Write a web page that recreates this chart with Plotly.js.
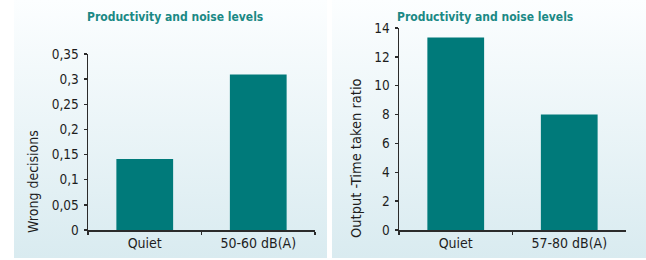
<!DOCTYPE html>
<html>
<head>
<meta charset="utf-8">
<script src="https://cdn.plot.ly/plotly-3.0.1.min.js"></script>
<style>html,body{margin:0;padding:0;background:#fff;}#chart{width:646px;height:260px;}</style>
</head>
<body>
<div id="chart"></div>
<script>
// ---- data ----
const chartTitle = "Productivity and noise levels";
const leftCategories = ["Quiet", "50-60 dB(A)"];
const leftValues = [0.141, 0.309];
const leftYTitle = "Wrong decisions";
const leftTickVals = [0, 0.05, 0.1, 0.15, 0.2, 0.25, 0.3, 0.35];
const leftTickText = ["0", "0,05", "0,1", "0,15", "0,2", "0,25", "0,3", "0,35"];

const rightCategories = ["Quiet", "57-80 dB(A)"];
const rightValues = [13.35, 8.0];
const rightYTitle = "Output -Time taken ratio";
const rightTickVals = [0, 2, 4, 6, 8, 10, 12, 14];
const rightTickText = ["0", "2", "4", "6", "8", "10", "12", "14"];

// ---- style ----
const W = 646, H = 260;
const px = v => v / W;
const py = v => 1 - v / H;
const barColor = "#007a7a";
const titleColor = "#1a8985";
const axisColor = "#2b2b2b";
const narrow = "'Liberation Sans Narrow', 'DejaVu Sans Condensed', 'Arial Narrow', sans-serif";

const grad = 'data:image/svg+xml;charset=utf-8,' + encodeURIComponent(
  '<svg xmlns="http://www.w3.org/2000/svg" width="10" height="100" preserveAspectRatio="none">' +
  '<defs><linearGradient id="g" x1="0" y1="0" x2="0" y2="1">' +
  '<stop offset="0" stop-color="#fcfeff"/><stop offset="1" stop-color="#d9ebf0"/>' +
  '</linearGradient></defs><rect width="10" height="100" fill="url(#g)"/></svg>');

const tickFont = {family: narrow, size: 13.5, color: "#1e1e1e"};
const catFont = {family: narrow, size: 14, color: "#1e1e1e"};

function yAxis(domain, range, vals, text) {
  return {
    domain: domain, range: range, tickvals: vals, ticktext: text,
    showline: true, linecolor: axisColor, linewidth: 1.5,
    ticks: "outside", ticklen: 3, tickwidth: 1.5, tickcolor: axisColor,
    showgrid: false, zeroline: false, tickfont: tickFont, ticklabelstandoff: 2,
    fixedrange: true
  };
}
function yOverlay(ov, range, vals, anchor) {
  return {
    overlaying: ov, anchor: anchor, range: range, tickvals: vals, showticklabels: false,
    ticks: "inside", ticklen: 3, tickwidth: 1.5, tickcolor: axisColor,
    showline: false, showgrid: false, zeroline: false, fixedrange: true
  };
}
function xAxis(domain, anchor) {
  return {
    domain: domain, anchor: anchor, type: "category", range: [-0.5, 1.5],
    showline: true, linecolor: axisColor, linewidth: 1.5,
    ticks: "outside", ticklen: 3, tickwidth: 1.5, tickcolor: axisColor,
    tickson: "boundaries", showgrid: false, zeroline: false,
    tickfont: catFont, fixedrange: true
  };
}
function xOverlay(ov, anchor) {
  return {
    overlaying: ov, anchor: anchor, range: [-0.5, 1.5], tickvals: [-0.5, 0.5, 1.5],
    showticklabels: false, ticks: "inside", ticklen: 3, tickwidth: 1.5, tickcolor: axisColor,
    showline: false, showgrid: false, zeroline: false, fixedrange: true
  };
}

const leftY = [0, 0.35], rightY = [0, 14];
const data = [
  {type: "bar", x: leftCategories, y: leftValues, xaxis: "x", yaxis: "y",
   marker: {color: barColor}, hoverinfo: "none"},
  {type: "bar", x: rightCategories, y: rightValues, xaxis: "x2", yaxis: "y2",
   marker: {color: barColor}, hoverinfo: "none"}
];

const layout = {
  width: W, height: H,
  margin: {l: 0, r: 0, t: 0, b: 0},
  paper_bgcolor: "#ffffff", plot_bgcolor: "rgba(0,0,0,0)",
  showlegend: false, bargap: 0.5, separators: ", ",
  xaxis: xAxis([px(88), px(315)], "y"),
  yaxis: yAxis([py(230), py(54)], leftY, leftTickVals, leftTickText),
  xaxis2: xAxis([px(399), px(626)], "y2"),
  yaxis2: Object.assign(yAxis([py(230), py(28)], rightY, rightTickVals, rightTickText), {anchor: "x2"}),
  xaxis3: xOverlay("x", "y"),
  yaxis3: yOverlay("y", leftY, leftTickVals, "x"),
  xaxis4: xOverlay("x2", "y2"),
  yaxis4: yOverlay("y2", rightY, rightTickVals, "x2"),
  images: [
    {source: grad, xref: "paper", yref: "paper", x: px(14), y: 1, sizex: px(327) - px(14), sizey: 258 / H,
     sizing: "stretch", xanchor: "left", yanchor: "top", layer: "below"},
    {source: grad, xref: "paper", yref: "paper", x: px(332), y: 1, sizex: 1 - px(332), sizey: 258 / H,
     sizing: "stretch", xanchor: "left", yanchor: "top", layer: "below"}
  ],
  annotations: [
    {text: "<b>" + chartTitle + "</b>", xref: "paper", yref: "paper", x: px(175), y: py(17),
     showarrow: false, xanchor: "center", yanchor: "middle",
     font: {family: narrow, size: 12, color: titleColor}},
    {text: "<b>" + chartTitle + "</b>", xref: "paper", yref: "paper", x: px(485), y: py(17),
     showarrow: false, xanchor: "center", yanchor: "middle",
     font: {family: narrow, size: 12, color: titleColor}},
    {text: leftYTitle, xref: "paper", yref: "paper", x: px(33), y: py(182), textangle: -90,
     showarrow: false, xanchor: "center", yanchor: "middle",
     font: {family: narrow, size: 14, color: "#1e1e1e"}},
    {text: rightYTitle, xref: "paper", yref: "paper", x: px(356), y: py(158), textangle: -90,
     showarrow: false, xanchor: "center", yanchor: "middle",
     font: {family: narrow, size: 14.5, color: "#1e1e1e"}}
  ]
};

Plotly.newPlot("chart", data, layout, {displayModeBar: false, staticPlot: true});
</script>
</body>
</html>
